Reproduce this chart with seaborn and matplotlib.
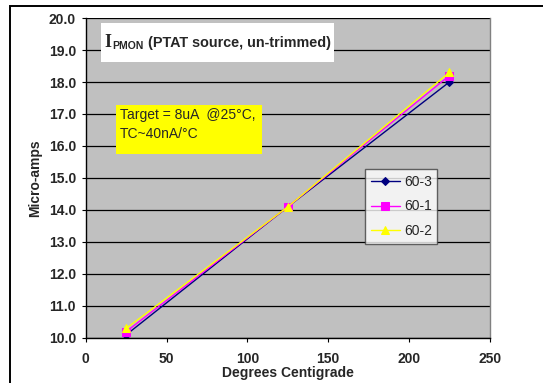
import matplotlib
matplotlib.use("Agg")
import matplotlib.pyplot as plt
import seaborn as sns
import pandas as pd
from matplotlib.patches import Rectangle

temps = [25, 125, 225]
s603 = [10.1, 14.1, 18.0]
s601 = [10.2, 14.1, 18.2]
s602 = [10.3, 14.1, 18.3]
series_names = ["60-3", "60-1", "60-2"]
colors = ["#000080", "#FF00FF", "#FFFF00"]
markers = ["D", "s", "^"]

df = pd.DataFrame({
    "temp": temps * 3,
    "val": s603 + s601 + s602,
    "series": [series_names[0]] * 3 + [series_names[1]] * 3 + [series_names[2]] * 3,
})

sns.set_theme(style="white")
plt.rcParams['font.family'] = ['Liberation Sans', 'DejaVu Sans']

fig = plt.figure(figsize=(5.43, 3.83), dpi=100)
ax = fig.add_axes([0.158, 0.1175, 0.744, 0.8355])
ax.set_facecolor("#C0C0C0")

for name, c, m in zip(series_names, colors, markers):
    sub = df[df.series == name]
    sns.lineplot(data=sub, x="temp", y="val", ax=ax, color=c, marker=m,
                 markersize=6 if m != "D" else 4.5, markeredgecolor=c, linewidth=1.0,
                 label=name)

ax.set_xlim(0, 250)
ax.set_ylim(10, 20)
ax.set_xticks([0, 50, 100, 150, 200, 250])
ax.set_yticks([10 + i for i in range(11)])
ax.set_yticklabels([f"{10 + i:.1f}" for i in range(11)])
ax.yaxis.grid(True, color="#000000", linewidth=0.9)
ax.set_axisbelow(True)
for lab in ax.get_xticklabels() + ax.get_yticklabels():
    lab.set_fontweight("bold")
ax.tick_params(axis="both", labelsize=10, length=3, width=0.8, color="black", direction="out", pad=4)
ax.tick_params(axis="x", pad=7)
ax.tick_params(left=True, bottom=True)
ax.set_xlabel("Degrees Centigrade", fontsize=10, fontweight="bold", labelpad=0)
ax.set_ylabel("Micro-amps", fontsize=10, fontweight="bold", labelpad=5)
ax.spines["left"].set_color("black")
ax.spines["bottom"].set_color("black")
ax.spines["right"].set_color("#808080")
ax.spines["top"].set_visible(False)
for s in ax.spines.values():
    s.set_linewidth(1.0)

leg = ax.legend(loc="upper left", bbox_to_anchor=(0.691, 0.528), frameon=True,
                fancybox=False, edgecolor="#404040", fontsize=10, handlelength=2.1,
                borderpad=0.4, labelspacing=0.78, handletextpad=0.3, borderaxespad=0)
leg.get_frame().set_linewidth(1.0)

# title box
ax.add_patch(Rectangle((0.037, 0.8625), 0.577, 0.1215, transform=ax.transAxes,
                       facecolor="white", edgecolor="none", zorder=3))
ax.text(0.045, 0.922, "I", transform=ax.transAxes, fontsize=13, fontweight="bold",
        family=["Liberation Serif", "DejaVu Serif"], va="center", ha="left", zorder=4)
ax.text(0.066, 0.912, "PMON", transform=ax.transAxes, fontsize=7.5, fontweight="bold",
        va="center", ha="left", zorder=4)
ax.text(0.153, 0.922, "(PTAT source, un-trimmed)", transform=ax.transAxes, fontsize=10.4,
        fontweight="bold", va="center", ha="left", zorder=4)

# yellow annotation box
ax.add_patch(Rectangle((0.074, 0.575), 0.362, 0.153, transform=ax.transAxes,
                       facecolor="#FFFF00", edgecolor="none", zorder=3))
ax.text(0.084, 0.697, "Target = 8uA  @25\u00b0C,", transform=ax.transAxes,
        fontsize=10, va="center", ha="left", zorder=4)
ax.text(0.084, 0.6375, "TC~40nA/\u00b0C", transform=ax.transAxes,
        fontsize=10, va="center", ha="left", zorder=4)

fig.patches.append(Rectangle((10 / 543, -0.1), 1.2, 1 - 6 / 383 + 0.1, transform=fig.transFigure,
                             facecolor="none", edgecolor="black", linewidth=1.4, clip_on=False))

fig.savefig("out.png", dpi=100)
